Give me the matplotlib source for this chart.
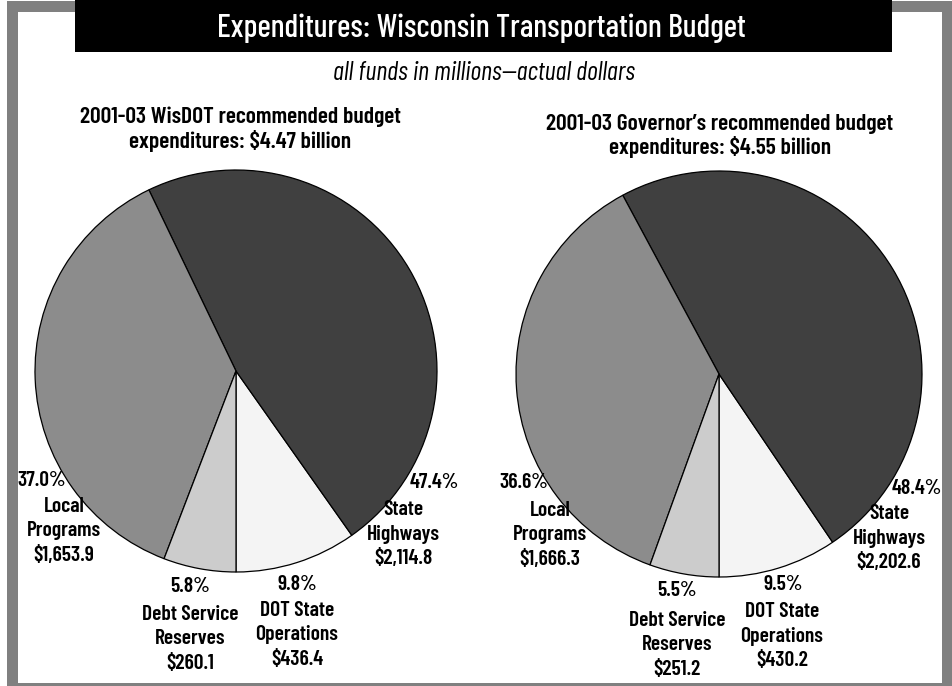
import matplotlib.pyplot as plt
from matplotlib.patches import Rectangle

# data
categories = ['DOT State\nOperations', 'State\nHighways', 'Local\nPrograms', 'Debt Service\nReserves']
wisdot_values = [436.4, 2114.8, 1653.9, 260.1]
governor_values = [430.2, 2202.6, 1666.3, 251.2]
colors = ['#f4f4f4', '#404040', '#8c8c8c', '#cccccc']

title = 'Expenditures: Wisconsin Transportation Budget'
subtitle = 'all funds in millions\u2014actual dollars'
left_head = '2001-03 WisDOT recommended budget\nexpenditures: $4.47 billion'
right_head = "2001-03 Governor\u2019s recommended budget\nexpenditures: $4.55 billion"

W, H = 953, 686
FONT = ['Barlow Condensed', 'Fira Sans Extra Condensed', 'DejaVu Sans']

fig = plt.figure(figsize=(W / 100, H / 100), dpi=100)
ax = fig.add_axes([0, 0, 1, 1])


def py(y):
    # image y (from top) -> data y
    return H - y


# frame
ax.add_patch(Rectangle((7, py(686)), 960, 685, facecolor='#808080', edgecolor='none'))
ax.add_patch(Rectangle((18, py(683)), 924, 671, facecolor='white', edgecolor='none'))
ax.add_patch(Rectangle((75, py(52)), 817, 52, facecolor='black', edgecolor='none'))

ax.text(481, py(37), title, color='white', fontsize=23, family=FONT,
        weight='medium', ha='center', va='baseline')
ax.text(484, py(80), subtitle, color='black', fontsize=19, family=FONT,
        style='italic', ha='center', va='baseline')
ax.text(240, py(129), left_head, fontsize=17, family=FONT, weight='semibold',
        ha='center', va='center', linespacing=1.15)
ax.text(720, py(136), right_head, fontsize=17, family=FONT, weight='semibold',
        ha='center', va='center', linespacing=1.15)


def draw_pie(values, center, radius, pct_pos, body_pos):
    total = sum(values)
    ax.pie(values, colors=colors, startangle=270, counterclock=True,
           center=(center[0], py(center[1])), radius=radius,
           wedgeprops=dict(edgecolor='black', linewidth=0.9))
    for name, v, pp, bp in zip(categories, values, pct_pos, body_pos):
        pct = v / total * 100
        ax.text(pp[0], py(pp[1]), f'{pct:.1f}%', fontsize=15.5, family=FONT,
                weight='semibold', ha='center', va='center')
        ax.text(bp[0], py(bp[1]), f'{name}\n${v:,.1f}', fontsize=15.5,
                family=FONT, weight='semibold', ha='center', va='center',
                linespacing=1.35)


draw_pie(wisdot_values, (236, 371), 201,
         [(297, 584), (434, 483), (42, 481), (190, 587)],
         [(297, 635), (403, 534), (64, 531), (190, 639)])
draw_pie(governor_values, (719, 374), 203,
         [(783, 584), (917, 488), (524, 483), (677, 591)],
         [(782, 636), (889, 538), (550, 535), (677, 645)])

ax.set_xlim(0, W)
ax.set_ylim(0, H)
ax.set_aspect('auto')
ax.axis('off')

fig.savefig('out.png', dpi=100)
